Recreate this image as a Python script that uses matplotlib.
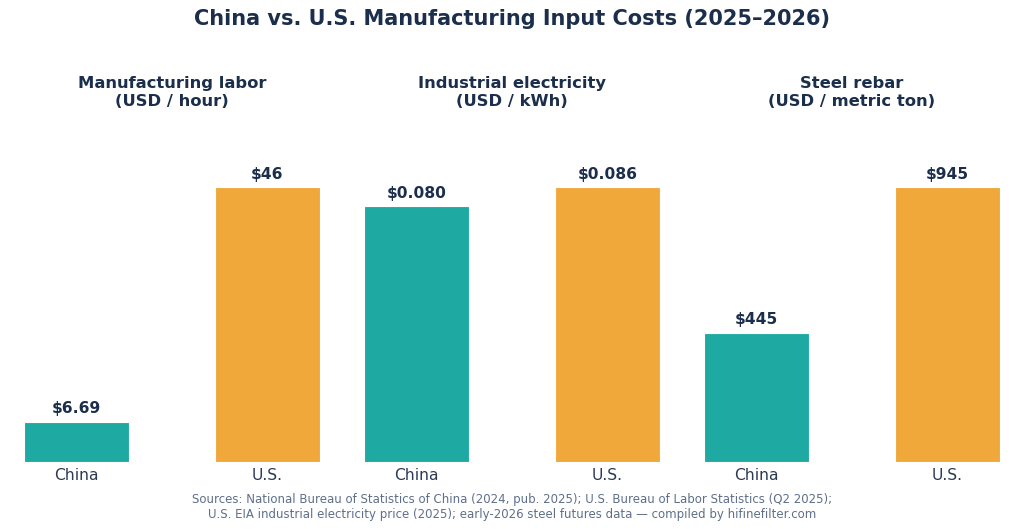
import matplotlib
matplotlib.use("Agg")
import matplotlib.pyplot as plt

panel_titles = ["Manufacturing labor\n(USD / hour)",
                "Industrial electricity\n(USD / kWh)",
                "Steel rebar\n(USD / metric ton)"]
countries = ["China", "U.S."]
china_values = [6.69, 0.080, 445]
us_values = [46, 0.086, 945]
value_labels = [["$6.69", "$46"], ["$0.080", "$0.086"], ["$445", "$945"]]

teal = "#1FA9A3"
orange = "#F0A83B"
navy = "#1B2E4B"

fig, axes = plt.subplots(1, 3, figsize=(10.24, 5.29), dpi=100)
fig.subplots_adjust(left=0.0234, right=0.9766, bottom=0.1267, top=0.724, wspace=0.149)

for i, ax in enumerate(axes):
    vals = [china_values[i], us_values[i]]
    ax.bar([0, 1], vals, width=0.55, color=[teal, orange], edgecolor="white", linewidth=0.8)
    m = max(vals)
    ax.set_ylim(0, m * 1.15)
    ax.set_xlim(-0.275, 1.275)
    for x, v, lab in zip([0, 1], vals, value_labels[i]):
        ax.annotate(lab, (x, v), xytext=(0, 4), textcoords="offset points",
                    ha="center", va="bottom", fontsize=11.2, fontweight="bold", color=navy)
    ax.set_xticks([0, 1])
    ax.set_xticklabels(countries, fontsize=11.2, color="#2b3a55")
    ax.tick_params(axis="x", length=0, pad=4)
    ax.set_yticks([])
    for s in ax.spines.values():
        s.set_visible(False)
    ax.set_title(panel_titles[i], fontsize=11.75, fontweight="bold", color=navy, pad=29)

fig.suptitle("China vs. U.S. Manufacturing Input Costs (2025\u20132026)",
             fontsize=15, fontweight="bold", color=navy, y=0.983)
fig.text(0.5, 0.015,
         "Sources: National Bureau of Statistics of China (2024, pub. 2025); U.S. Bureau of Labor Statistics (Q2 2025);\n"
         "U.S. EIA industrial electricity price (2025); early-2026 steel futures data \u2014 compiled by hifinefilter.com",
         ha="center", va="bottom", fontsize=8.5, color="#5f6f8a")

fig.savefig("out.png", dpi=100)
